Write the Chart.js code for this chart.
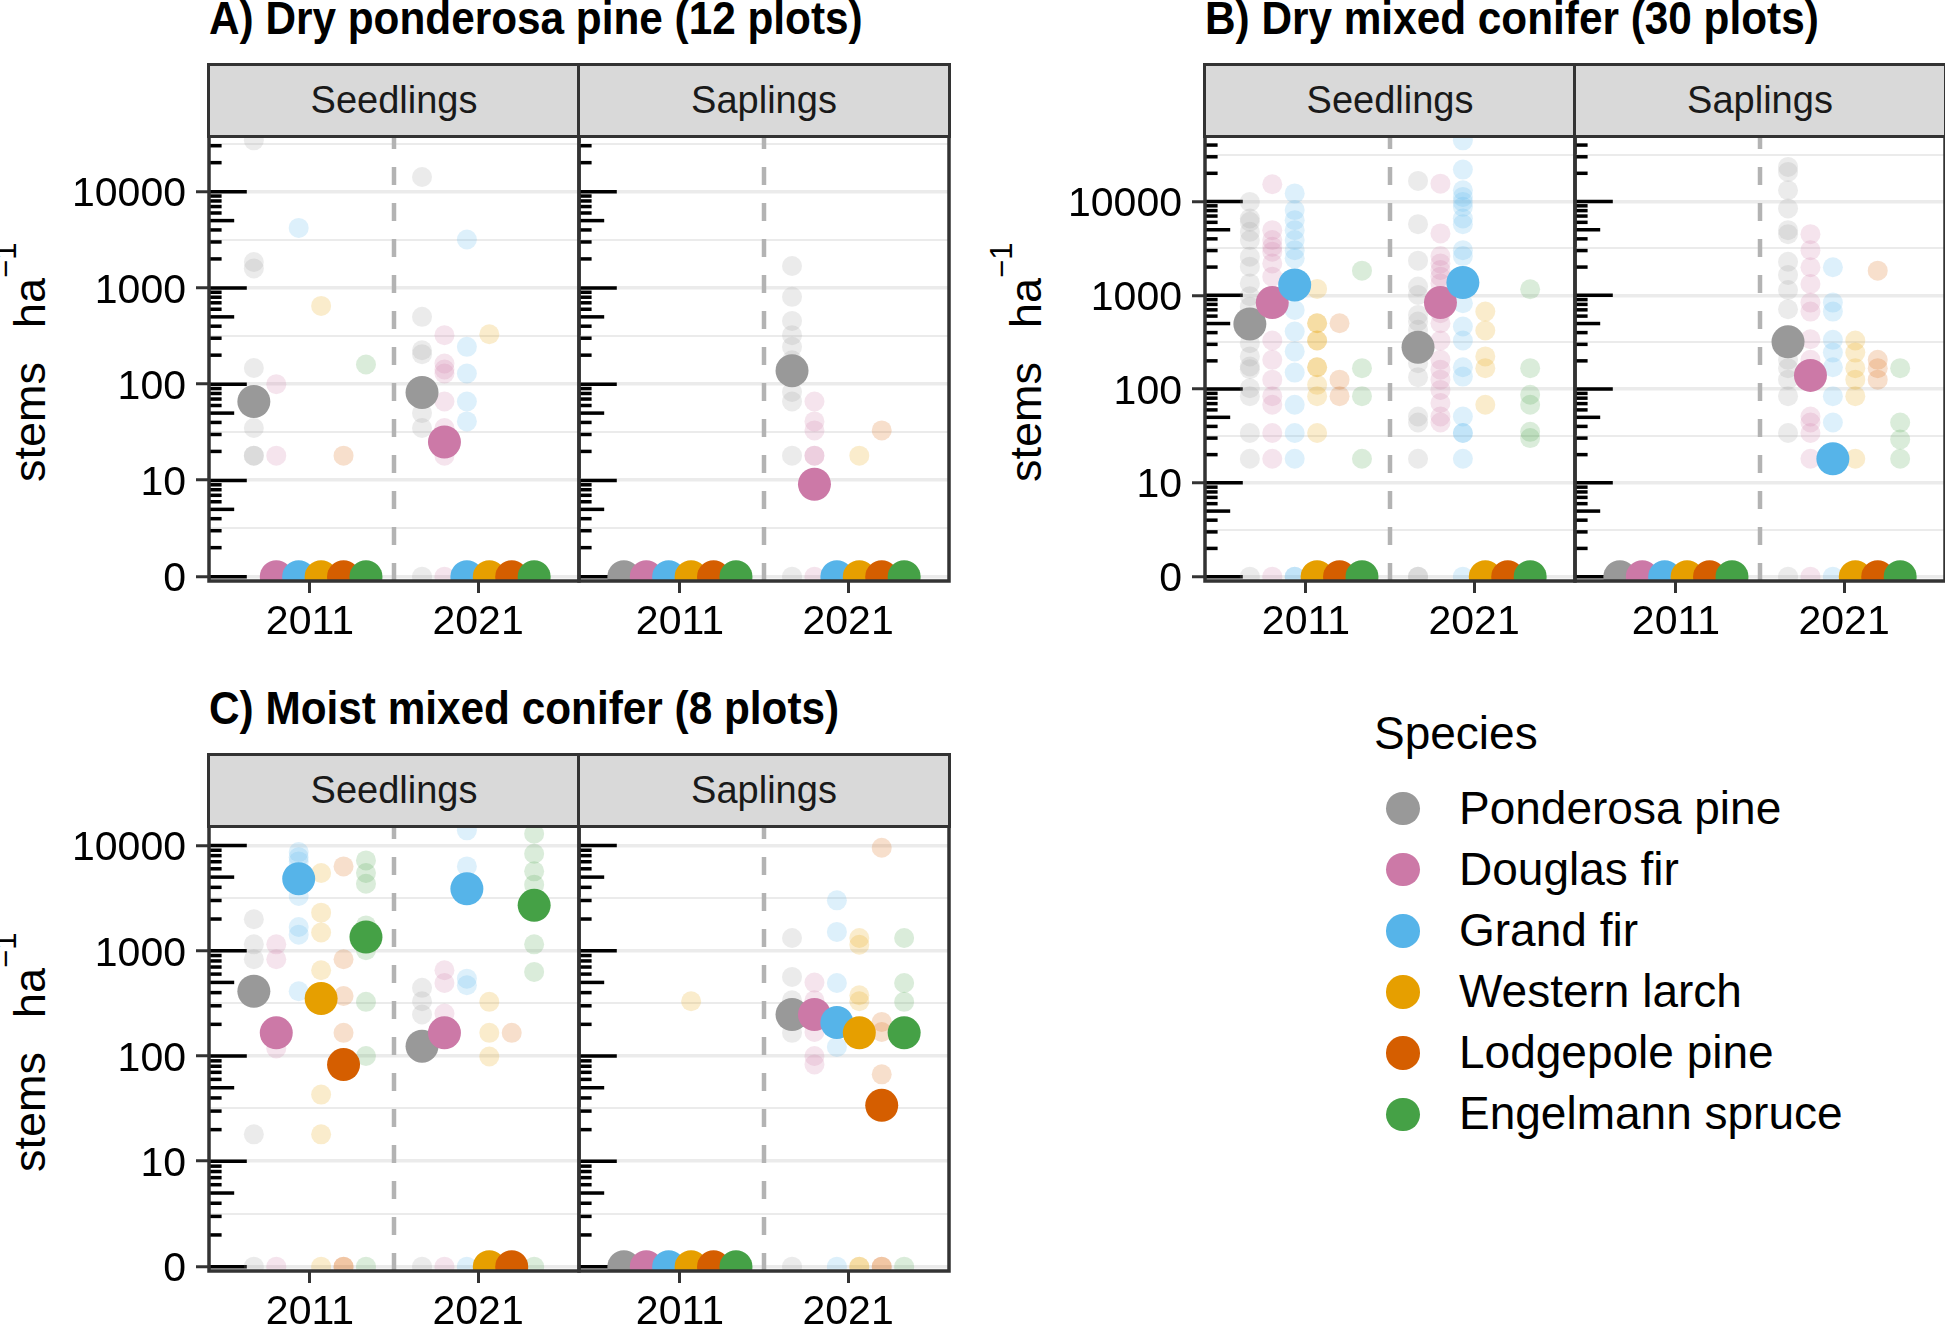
<!DOCTYPE html>
<html>
<head>
<meta charset="utf-8">
<script src="https://cdn.jsdelivr.net/npm/chart.js@4.4.1/dist/chart.umd.min.js"></script>
<style>
  body { margin: 0; background: #fff; }
  #figura { position: relative; width: 1945px; height: 1324px; overflow: hidden; font-family: "Liberation Sans", Arial, sans-serif; color: #000; }
  #figura canvas { position: absolute; }
  .texto { position: absolute; white-space: nowrap; line-height: 1.2; }
  .faixa { position: absolute; box-sizing: border-box; background: #d9d9d9; border: 3.5px solid #333; font-size: 38px; color: #1a1a1a; display: flex; align-items: center; justify-content: center; z-index: 2; }
  .marcador { position: absolute; border-radius: 50%; }
</style>
</head>
<body>
<div id="figura"></div>
<script>
// -------------------------------------------------------------
// DADOS (stems ha-1 por parcela; médias nos arrays *Media)
// -------------------------------------------------------------

const especies = ['Ponderosa pine', 'Douglas fir', 'Grand fir', 'Western larch', 'Lodgepole pine', 'Engelmann spruce'];
const cores = ['#999999', '#CC79A7', '#56B4E9', '#E69F00', '#D55E00', '#45A146'];
const anos = ['2011', '2021'];
const estagios = ['Seedlings', 'Saplings'];
const quebrasY = [0, 10, 100, 1000, 10000];

// A) Dry ponderosa pine
const aMudas2011 = [
    [34100, 1860, 1590, 147, 35, 18, 18],
    [100, 18],
    [4200],
    [650],
    [18],
    [160]
];
const aMudas2011Media = [66, 0, 0, 0, 0, 0];
const aMudas2021 = [
    [14200, 500, 225, 205, 50, 35, 0],
    [323, 164, 142, 129, 66, 35, 18, 0],
    [3180, 244, 129, 66, 41],
    [330],
    [],
    []
];
const aMudas2021Media = [82, 25, 0, 0, 0, 0];
const aArvoretas2011 = [[], [], [], [], [], []];
const aArvoretas2011Media = [0, 0, 0, 0, 0, 0];
const aArvoretas2021 = [
    [1690, 807, 454, 323, 244, 177, 83, 66, 18, 0],
    [66, 41, 33, 18, 18, 0],
    [],
    [18],
    [33],
    []
];
const aArvoretas2021Media = [138, 9, 0, 0, 0, 0];

// B) Dry mixed conifer
const bMudas2011 = [
    [9910, 6590, 6080, 4750, 3880, 2580, 2020, 1340, 980, 757, 308, 223, 174, 163, 102, 84, 34, 18, 0],
    [15300, 4950, 3880, 3300, 2920, 2190, 1580, 330, 205, 126, 84, 68, 34, 18, 0],
    [12200, 8100, 6330, 4950, 3880, 3030, 2480, 698, 410, 252, 150, 68, 34, 18, 0, 0],
    [1170, 504, 504, 330, 330, 171, 171, 111, 84, 34],
    [504, 126, 84],
    [1830, 167, 84, 18]
];
const bMudas2011Media = [495, 836, 1290, 0, 0, 0];
const bMudas2021 = [
    [16600, 5740, 2340, 1240, 1010, 618, 525, 428, 189, 134, 51, 44, 18, 0, 0],
    [15500, 4570, 2620, 2190, 1860, 1580, 1340, 644, 504, 330, 205, 161, 126, 98, 71, 51, 44],
    [44900, 21900, 13200, 11200, 9900, 8770, 6590, 5740, 3030, 2620, 822, 465, 330, 171, 136, 51, 34, 34, 18, 0],
    [670, 421, 223, 167, 68],
    [],
    [1160, 167, 87, 68, 35, 30]
];
const bMudas2021Media = [280, 836, 1370, 0, 0, 0];
const bArvoretas2011 = [[], [], [], [], [], []];
const bArvoretas2011Media = [0, 0, 0, 0, 0, 0];
const bArvoretas2021 = [
    [23400, 20700, 13200, 8430, 4950, 4490, 2280, 1650, 1140, 710, 205, 167, 126, 84, 34, 0],
    [4490, 3030, 1990, 1320, 836, 670, 340, 205, 51, 44, 34, 18, 0],
    [1990, 836, 670, 335, 245, 171, 84, 44, 0],
    [330, 245, 167, 126, 84, 18],
    [1830, 205, 167, 126],
    [167, 44, 29, 18]
];
const bArvoretas2021Media = [319, 140, 18, 0, 0, 0];

// C) Moist mixed conifer
const cMudas2011 = [
    [1990, 1150, 829, 18, 0],
    [1150, 829, 118, 0],
    [8650, 7740, 7050, 3310, 1680, 1420, 412],
    [5470, 2300, 1490, 652, 43, 18, 0],
    [6320, 829, 372, 166, 0, 0],
    [7210, 5470, 4330, 1740, 1010, 327, 100, 0]
];
const cMudas2011Media = [412, 166, 4830, 351, 83, 1350];
const cMudas2021 = [
    [444, 331, 248, 0],
    [652, 494, 253, 0],
    [13900, 6320, 543, 470, 0],
    [327, 166, 99],
    [166],
    [12900, 8340, 5670, 4240, 1150, 629, 0]
];
const cMudas2021Media = [124, 166, 3880, 0, 0, 2700];
const cArvoretas2011 = [[], [], [], [331], [], []];
const cArvoretas2011Media = [0, 0, 0, 0, 0, 0];
const cArvoretas2021 = [
    [1320, 564, 339, 166, 0],
    [498, 339, 169, 100, 83],
    [3010, 1510, 494, 122, 0],
    [1320, 1140, 378, 331, 0, 0],
    [9510, 211, 169, 67, 0, 0],
    [1320, 494, 327, 0]
];
const cArvoretas2021Media = [248, 248, 208, 166, 34, 166];

// -------------------------------------------------------------
// LAYOUT DOS PAINÉIS
// -------------------------------------------------------------

const LARG_FACETA = 370;
const ALT_FACETA = 445;
const MARGEM = 8;
const FONTE_EIXO = 41;

const paineis = [
    { titulo: 'A) Dry ponderosa pine (12 plots)', esquerda: 209, topo: 136,
      facetas: [
        { pontos: [aMudas2011, aMudas2021], medias: [aMudas2011Media, aMudas2021Media] },
        { pontos: [aArvoretas2011, aArvoretas2021], medias: [aArvoretas2011Media, aArvoretas2021Media] }
      ] },
    { titulo: 'B) Dry mixed conifer (30 plots)', esquerda: 1205, topo: 136,
      facetas: [
        { pontos: [bMudas2011, bMudas2021], medias: [bMudas2011Media, bMudas2021Media] },
        { pontos: [bArvoretas2011, bArvoretas2021], medias: [bArvoretas2011Media, bArvoretas2021Media] }
      ] },
    { titulo: 'C) Moist mixed conifer (8 plots)', esquerda: 209, topo: 826,
      facetas: [
        { pontos: [cMudas2011, cMudas2021], medias: [cMudas2011Media, cMudas2021Media] },
        { pontos: [cArvoretas2011, cArvoretas2021], medias: [cArvoretas2011Media, cArvoretas2021Media] }
      ] }
];

// -------------------------------------------------------------
// FUNÇÕES AUXILIARES
// -------------------------------------------------------------

// escala pseudo-log (sigma = 1, base 10)
function pseudoLog(v) {
    return Math.asinh(v / 2) / Math.LN10;
}

function corAlfa(hex, a) {
    const r = parseInt(hex.slice(1, 3), 16), g = parseInt(hex.slice(3, 5), 16), b = parseInt(hex.slice(5, 7), 16);
    return `rgba(${r},${g},${b},${a})`;
}

function posicaoX(iAno, iEsp) {
    return iAno + 1 + (iEsp - 2.5) * 0.8 / 6;
}

function ticksY(min, max) {
    const maiores = quebrasY.map(v => ({ value: pseudoLog(v), rotulo: String(v), menor: false }));
    const menores = maiores.map((t, i) => {
        const prox = i < maiores.length - 1 ? maiores[i + 1].value : t.value + (t.value - maiores[i - 1].value);
        return { value: (t.value + prox) / 2, rotulo: '', menor: true };
    });
    return [...maiores, ...menores].filter(t => t.value >= min && t.value <= max).sort((a, b) => a.value - b.value);
}

function texto(conteudo, x, yBase, tamanho, extra) {
    const el = document.createElement('div');
    el.className = 'texto';
    el.innerHTML = conteudo;
    el.style.left = x + 'px';
    el.style.top = (yBase - 0.9465 * tamanho) + 'px';
    el.style.fontSize = tamanho + 'px';
    if (extra) Object.assign(el.style, extra);
    document.getElementById('figura').appendChild(el);
    return el;
}

const pluginPainel = {
    id: 'extrasPainel',
    beforeDatasetsDraw(chart) {
        const { ctx, chartArea: a, scales: { x, y } } = chart;
        ctx.save();
        ctx.beginPath();
        ctx.rect(a.left, a.top, a.right - a.left, a.bottom - a.top);
        ctx.clip();
        // linha tracejada entre os anos
        const xm = x.getPixelForValue(1.5);
        ctx.strokeStyle = '#B3B3B3';
        ctx.lineWidth = 4.5;
        ctx.setLineDash([18, 18]);
        ctx.beginPath();
        ctx.moveTo(xm, a.bottom);
        ctx.lineTo(xm, a.top);
        ctx.stroke();
        ctx.setLineDash([]);
        // marcas logarítmicas no lado esquerdo
        ctx.strokeStyle = '#000';
        ctx.lineWidth = 3.5;
        for (let n = 0; n <= 4; n++) {
            for (let k = 1; k <= 9; k++) {
                const t = n + Math.log10(k);
                if (t < y.min || t > y.max) continue;
                const comp = k === 1 ? 37.8 : (k === 5 ? 25.2 : 12.6);
                const py = y.getPixelForValue(t);
                ctx.beginPath();
                ctx.moveTo(a.left, py);
                ctx.lineTo(a.left + comp, py);
                ctx.stroke();
            }
        }
        ctx.restore();
    },
    afterDatasetsDraw(chart) {
        const { ctx, chartArea: a } = chart;
        ctx.save();
        ctx.strokeStyle = '#333';
        ctx.lineWidth = 3.5;
        ctx.strokeRect(a.left, a.top, a.right - a.left, a.bottom - a.top);
        ctx.restore();
    }
};

// -------------------------------------------------------------
// DESENHO DAS FACETAS
// -------------------------------------------------------------

function criarFaceta(painel, iFac, limites) {
    const comEixo = iFac === 0;
    const faceta = painel.facetas[iFac];
    const larguraEixo = comEixo ? 200 : 0;
    const margemEsq = comEixo ? 0 : MARGEM;
    const esq = painel.esquerda + iFac * LARG_FACETA;

    const canvas = document.createElement('canvas');
    canvas.width = larguraEixo + margemEsq + LARG_FACETA + MARGEM;
    canvas.height = MARGEM + ALT_FACETA + 70;
    canvas.style.left = (esq - larguraEixo - margemEsq) + 'px';
    canvas.style.top = (painel.topo - MARGEM) + 'px';
    document.getElementById('figura').appendChild(canvas);

    // faixa do estágio
    const faixa = document.createElement('div');
    faixa.className = 'faixa';
    faixa.textContent = estagios[iFac];
    faixa.style.left = (esq - 1.75) + 'px';
    faixa.style.top = (painel.topo - 73.5) + 'px';
    faixa.style.width = (LARG_FACETA + 3.5) + 'px';
    faixa.style.height = (73.5 + 1.75) + 'px';
    document.getElementById('figura').appendChild(faixa);

    const conjuntos = [];
    especies.forEach((nome, s) => {
        const pts = [];
        anos.forEach((ano, a) => faceta.pontos[a][s].forEach(v => pts.push({ x: posicaoX(a, s), y: pseudoLog(v) })));
        conjuntos.push({ label: nome, data: pts, pointRadius: 10, backgroundColor: corAlfa(cores[s], 0.2), pointBorderWidth: 0, pointHoverRadius: 10, clip: 0 });
    });
    especies.forEach((nome, s) => {
        const pts = anos.map((ano, a) => ({ x: posicaoX(a, s), y: pseudoLog(faceta.medias[a][s]) }));
        conjuntos.push({ label: nome + ' média', data: pts, pointRadius: 16.5, backgroundColor: cores[s], pointBorderWidth: 0, pointHoverRadius: 16.5, clip: 0 });
    });
    conjuntos.forEach((c, i) => { c.order = -i; });

    new Chart(canvas, {
        type: 'scatter',
        data: { datasets: conjuntos },
        options: {
            responsive: false, animation: false, events: [],
            layout: { autoPadding: false, padding: { top: MARGEM, right: MARGEM, left: margemEsq, bottom: 0 } },
            plugins: { legend: { display: false }, tooltip: { enabled: false } },
            scales: {
                x: {
                    type: 'linear', min: 0.4, max: 2.6,
                    afterBuildTicks: s => { s.ticks = [{ value: 1 }, { value: 2 }]; },
                    afterFit: s => { s.height = 70; s.paddingLeft = 0; s.paddingRight = 0; },
                    ticks: { callback: v => anos[v - 1], font: { size: FONTE_EIXO }, color: '#000', padding: 5, autoSkip: false, maxRotation: 0 },
                    grid: { drawOnChartArea: false, tickLength: 12, tickColor: '#333', tickWidth: 3 },
                    border: { display: false }
                },
                y: {
                    type: 'linear', min: limites[0], max: limites[1],
                    afterBuildTicks: s => { s.ticks = ticksY(limites[0], limites[1]); },
                    afterFit: s => { s.width = larguraEixo; s.paddingTop = 0; s.paddingBottom = 0; },
                    ticks: { display: comEixo, callback: (v, i, t) => t[i].rotulo, font: { size: FONTE_EIXO }, color: '#000', padding: 10, labelOffset: 3.5, autoSkip: false },
                    grid: {
                        color: '#EBEBEB',
                        lineWidth: ctx => (ctx.tick && ctx.tick.menor) ? 2 : 3.5,
                        drawTicks: comEixo, tickLength: 13, tickWidth: 3,
                        tickColor: ctx => (ctx.tick && ctx.tick.menor) ? 'rgba(0,0,0,0)' : '#333'
                    },
                    border: { display: false }
                }
            }
        },
        plugins: [pluginPainel]
    });
}

function desenharPainel(painel) {
    // limites do eixo y: expansão de 1% sobre o máximo do painel
    let maximo = 0;
    painel.facetas.forEach(f => {
        f.pontos.forEach(porAno => porAno.forEach(lista => lista.forEach(v => { maximo = Math.max(maximo, pseudoLog(v)); })));
        f.medias.forEach(lista => lista.forEach(v => { maximo = Math.max(maximo, pseudoLog(v)); }));
    });
    const limites = [-0.01 * maximo, 1.01 * maximo];

    texto(painel.titulo, painel.esquerda, painel.topo - 101, 46,
          { fontWeight: 'bold', transform: 'scaleX(0.92)', transformOrigin: '0 0' });

    // título do eixo y, girado
    const rotulo = texto('stems<span style="display:inline-block;width:34px"></span>ha<span style="font-size:31px;position:relative;top:-29px">\u22121</span>', 0, 0, 45);
    const larg = rotulo.offsetWidth;
    rotulo.style.transformOrigin = '0 0';
    rotulo.style.transform = 'rotate(-90deg)';
    rotulo.style.left = (painel.esquerda - 163 - 0.9465 * 45) + 'px';
    rotulo.style.top = (painel.topo + 226 + larg / 2) + 'px';

    criarFaceta(painel, 0, limites);
    criarFaceta(painel, 1, limites);
}

function desenharLegenda() {
    texto('Species', 1374, 750, 46);
    especies.forEach((nome, i) => {
        const cy = 808.7 + i * 61.1;
        const m = document.createElement('div');
        m.className = 'marcador';
        m.style.left = (1403 - 16.7) + 'px';
        m.style.top = (cy - 16.7) + 'px';
        m.style.width = '33.4px';
        m.style.height = '33.4px';
        m.style.background = cores[i];
        document.getElementById('figura').appendChild(m);
        texto(nome, 1459, cy + 15.6, 46);
    });
}

Chart.defaults.font.family = '"Liberation Sans", Arial, sans-serif';
Chart.defaults.color = '#000';

paineis.forEach(desenharPainel);
desenharLegenda();
</script>
</body>
</html>
